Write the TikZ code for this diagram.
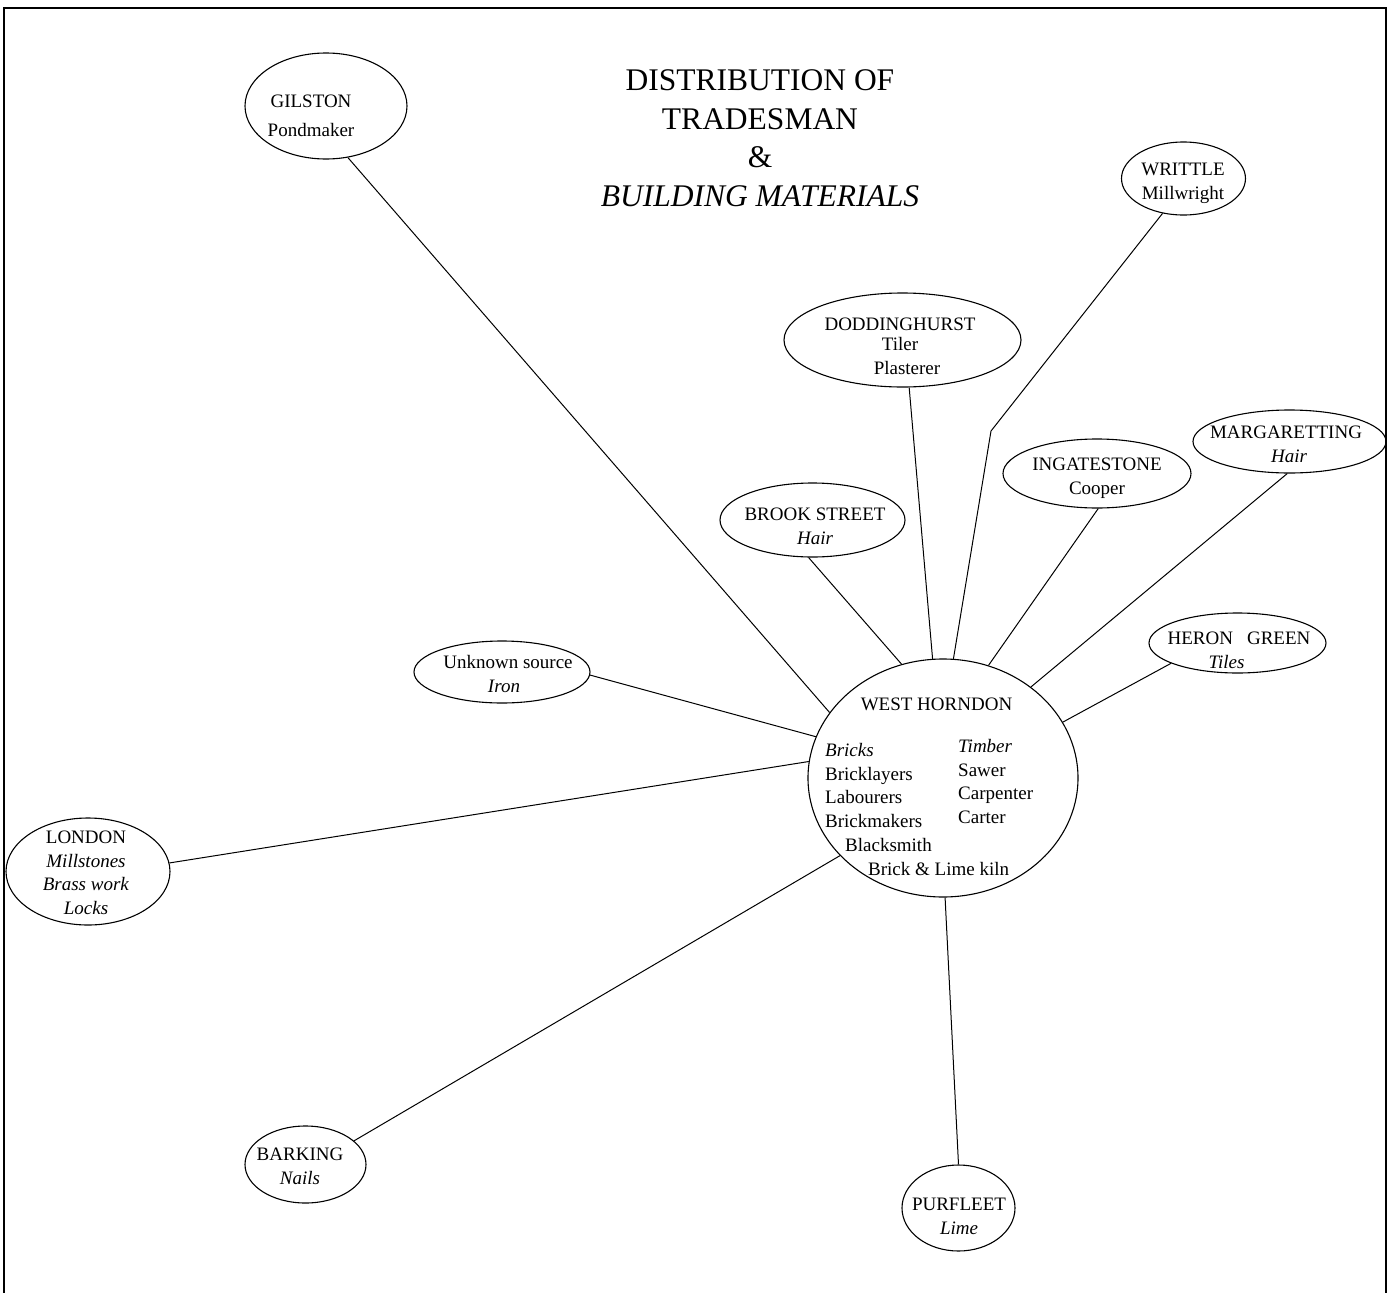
\documentclass[tikz,border=0pt]{standalone}
\usepackage{fontspec}
\setmainfont{Liberation Serif}
\usetikzlibrary{shapes.geometric}
\begin{document}
\begin{tikzpicture}[x=1pt,y=-1pt,
  place/.style={draw, ellipse, line width=1.1pt, inner sep=0pt},
  lbl/.style={inner sep=0pt, align=center, font=\fontsize{19}{24}\selectfont},
  col/.style={inner sep=0pt, align=left, anchor=north west, font=\fontsize{19}{23.8}\selectfont},
  link/.style={line width=1pt},
  frame/.style={line width=1.5pt}]
\useasboundingbox (0,0) rectangle (1393,1293);
% frame (open at the bottom)
\coordinate (fa) at (4,1293);
\coordinate (fb) at (4,8);
\coordinate (fc) at (1386,8);
\coordinate (fd) at (1386,1293);
\draw[frame] (fa) -- (fb) -- (fc) -- (fd);

% title
\node[inner sep=0pt, align=center, font=\fontsize{31.5}{38.5}\selectfont] (title) at (760,138)
  {DISTRIBUTION OF\\TRADESMAN\\\&\\\textit{BUILDING MATERIALS}};

% ellipses
\node[place, minimum width=270pt, minimum height=238pt] (wh) at (943,778) {};
\node[place, minimum width=162pt, minimum height=106pt] (gil) at (326,106) {};
\node[place, minimum width=124pt, minimum height=73pt] (wri) at (1183.5,178.5) {};
\node[place, minimum width=237pt, minimum height=94pt] (dod) at (902.5,340) {};
\node[place, minimum width=185pt, minimum height=74pt] (brk) at (812.5,520) {};
\node[place, minimum width=188pt, minimum height=69pt] (ing) at (1097,473.5) {};
\node[place, minimum width=193pt, minimum height=63pt] (mar) at (1289.5,441.5) {};
\node[place, minimum width=177pt, minimum height=60pt] (her) at (1237.5,643) {};
\node[place, minimum width=176pt, minimum height=62pt] (unk) at (502,672) {};
\node[place, minimum width=164pt, minimum height=107pt] (lon) at (88,871.5) {};
\node[place, minimum width=121pt, minimum height=77pt] (bar) at (305.5,1164.5) {};
\node[place, minimum width=113pt, minimum height=86pt] (pur) at (958.5,1208) {};

% texts
\node[lbl] (giltxt) at (311,116) {GILSTON\\[5pt]Pondmaker};
\node[lbl] (writxt) at (1183,183) {WRITTLE\\Millwright};
\node[lbl] (dodtxt) at (900,346) {DODDINGHURST\\[-4pt]Tiler\\\hspace*{14pt}Plasterer};
\node[lbl] (brktxt) at (815,526) {BROOK STREET\\\textit{Hair}};
\node[lbl] (ingtxt) at (1097,478) {INGATESTONE\\Cooper};
\node[lbl] (martxt) at (1286,444) {MARGARETTING\\\hspace*{6pt}\textit{Hair}};
\node[lbl] (hertxt) at (1239,650) {HERON\hspace{14pt}GREEN\\\textit{Tiles}\hspace*{25pt}};
\node[lbl] (unktxt) at (508,674) {Unknown source\\\textit{Iron}\hspace*{8pt}};
\node[lbl, font=\fontsize{19}{23.5}\selectfont] (lontxt) at (86,873)
  {LONDON\\\textit{Millstones}\\\textit{Brass work}\\\textit{Locks}};
\node[lbl] (bartxt) at (300,1166.5) {BARKING\\\textit{Nails}};
\node[lbl] (purtxt) at (959,1216) {PURFLEET\\\textit{Lime}};
\node[lbl] (whtxt) at (936.5,704) {WEST HORNDON};
\node[col] (whleft) at (825,743)
  {\textit{Bricks}\\Bricklayers\\Labourers\\Brickmakers\\\hspace*{20pt}Blacksmith\\\hspace*{43pt}Brick \& Lime kiln};
\node[col] (whright) at (958,739)
  {\textit{Timber}\\Sawer\\Carpenter\\Carter};

% connectors
\coordinate (bend) at (991,431);
\draw[link] (gil.293.3) -- (wh.150.1);
\draw[link] (dod.278) -- (wh.95.8);
\draw[link] (wri.239.9) -- (bend) -- (wh.85.7);
\draw[link] (brk.264.7) -- (wh.110.8);
\draw[link] (ing.272) -- (wh.68.9);
\draw[link] (mar.266) -- (wh.46.9);
\draw[link] (her.197.6) -- (wh.25);
\draw[link] (unk.-2) -- (wh.162.6);
\draw[link] (lon.6.6) -- (wh.173.3);
\draw[link] (bar.26.8) -- (wh.217);
\draw[link] (pur.90) -- (wh.271.4);
\end{tikzpicture}
\end{document}
